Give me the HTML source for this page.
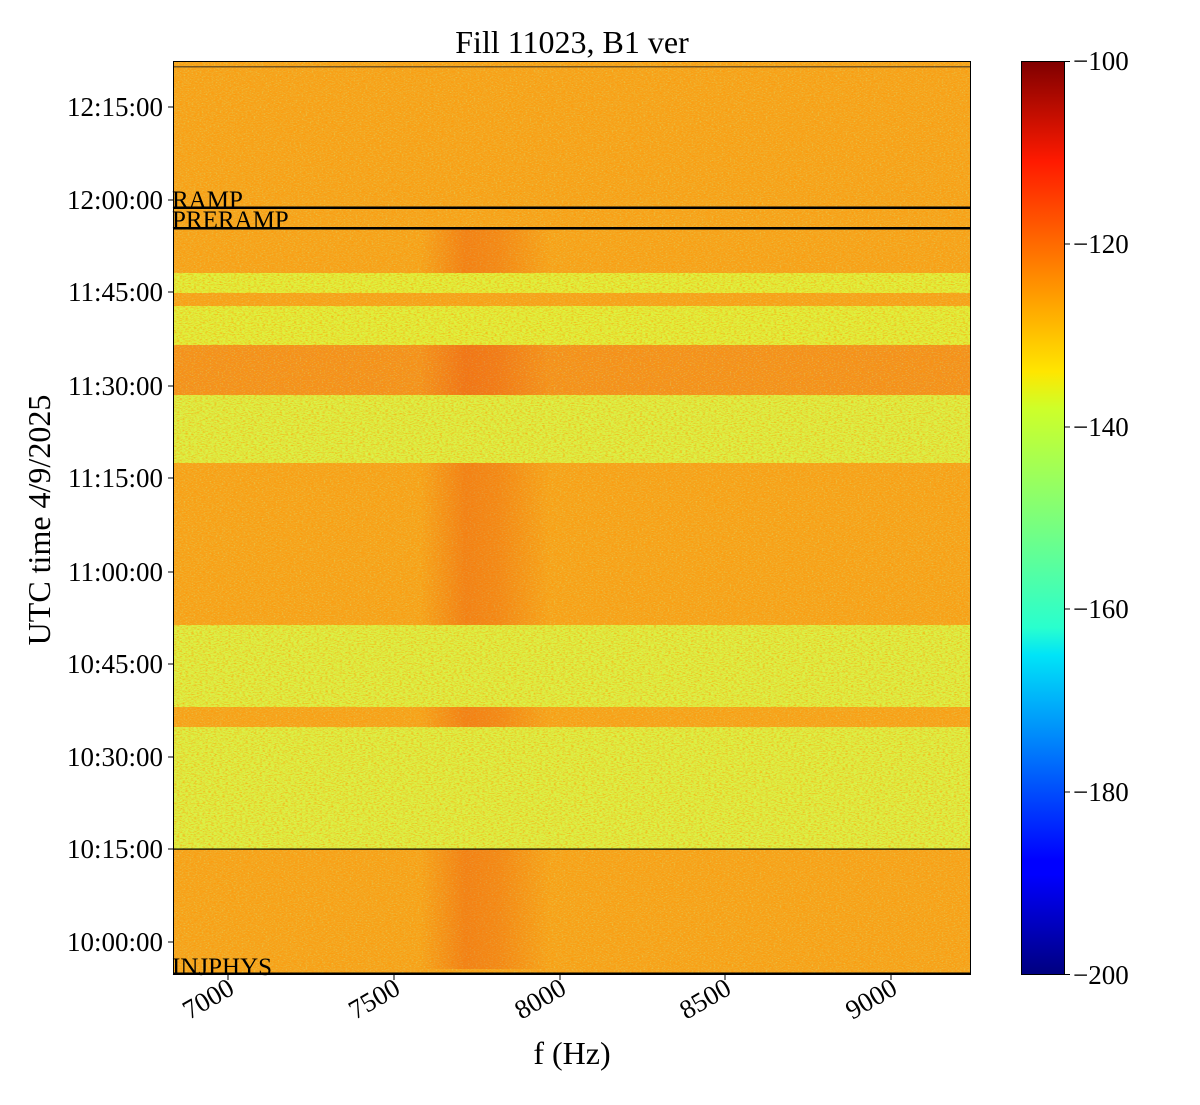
<!DOCTYPE html>
<html><head><meta charset="utf-8"><style>
html,body{margin:0;padding:0;background:#fff;}
svg text{font-family:"Liberation Serif",serif;fill:#000;}
</style></head><body>
<svg width="1200" height="1100" viewBox="0 0 1200 1100" xmlns="http://www.w3.org/2000/svg">
<defs>
<filter id="nz" x="0" y="0" width="100%" height="100%">
<feTurbulence type="fractalNoise" baseFrequency="0.35 0.9" numOctaves="2" seed="4"/>
<feColorMatrix type="matrix" values="0 0 0 0 1  0 0 0 0 0.3  0 0 0 0 0  2.6 0 0 0 -1.1"/>
</filter>
<filter id="nz2" x="0" y="0" width="100%" height="100%">
<feTurbulence type="fractalNoise" baseFrequency="0.5 1.2" numOctaves="1" seed="9"/>
<feColorMatrix type="matrix" values="0 0 0 0 0.6  0 0 0 0 1  0 0 0 0 0.3  2.8 0 0 0 -1.4"/>
</filter>
<linearGradient id="jet" x1="0" y1="1" x2="0" y2="0">
<stop offset="0" stop-color="#00007f"/>
<stop offset="0.11" stop-color="#0000ff"/>
<stop offset="0.125" stop-color="#0000ff"/>
<stop offset="0.35" stop-color="#00e4f8"/>
<stop offset="0.38" stop-color="#29ffce"/>
<stop offset="0.5" stop-color="#7dff7a"/>
<stop offset="0.62" stop-color="#ceff29"/>
<stop offset="0.66" stop-color="#ffe600"/>
<stop offset="0.89" stop-color="#ff1a00"/>
<stop offset="1" stop-color="#7f0000"/>
</linearGradient>
<linearGradient id="streak" x1="0" y1="0" x2="1" y2="0">
<stop offset="0" stop-color="#e8300a" stop-opacity="0"/>
<stop offset="0.35" stop-color="#e8300a" stop-opacity="0.28"/>
<stop offset="0.6" stop-color="#e8300a" stop-opacity="0.22"/>
<stop offset="1" stop-color="#e8300a" stop-opacity="0"/>
</linearGradient>
</defs>
<g>
<rect x="173" y="61" width="798" height="914" fill="#f6a41e"/>
<rect x="173" y="273" width="798" height="20" fill="#e0f03a"/>
<rect x="173" y="306" width="798" height="39" fill="#e0f03a"/>
<rect x="173" y="345" width="798" height="50" fill="#f39020"/>
<rect x="173" y="395" width="798" height="68" fill="#dcf042"/>
<rect x="173" y="625" width="798" height="82" fill="#dcf042"/>
<rect x="173" y="727" width="798" height="122" fill="#dcf042"/>
<rect x="173" y="61" width="798" height="914" filter="url(#nz)" opacity="0.6"/>
<rect x="173" y="61" width="798" height="914" filter="url(#nz2)" opacity="0.4"/>
<rect x="420" y="228" width="130" height="45" fill="url(#streak)"/>
<rect x="420" y="345" width="130" height="50" fill="url(#streak)"/>
<rect x="420" y="463" width="130" height="162" fill="url(#streak)"/>
<rect x="420" y="707" width="130" height="20" fill="url(#streak)"/>
<rect x="420" y="849" width="130" height="120" fill="url(#streak)"/>
<rect x="173" y="206.5" width="798" height="2.5" fill="#000"/>
<rect x="173" y="227" width="798" height="2.5" fill="#000"/>
<rect x="173" y="848.5" width="798" height="1.2" fill="#000"/>
<rect x="173" y="972.5" width="798" height="2.5" fill="#000"/>
<rect x="173" y="66" width="798" height="1.5" fill="#222" opacity="0.6"/>
<rect x="173.5" y="61.5" width="797" height="913" fill="none" stroke="#000" stroke-width="1"/>
<text x="172" y="208" font-size="25">RAMP</text>
<text x="172" y="228" font-size="25">PRERAMP</text>
<text x="172" y="975" font-size="25">INJPHYS</text>
</g>
<g font-size="27" text-anchor="end">
<g stroke="#000" stroke-width="1">
<line x1="168" y1="107" x2="173" y2="107"/><line x1="168" y1="200" x2="173" y2="200"/>
<line x1="168" y1="292" x2="173" y2="292"/><line x1="168" y1="386" x2="173" y2="386"/>
<line x1="168" y1="478" x2="173" y2="478"/><line x1="168" y1="572" x2="173" y2="572"/>
<line x1="168" y1="664" x2="173" y2="664"/><line x1="168" y1="757" x2="173" y2="757"/>
<line x1="168" y1="849" x2="173" y2="849"/><line x1="168" y1="942" x2="173" y2="942"/>
</g>
<text x="163" y="116">12:15:00</text><text x="163" y="209">12:00:00</text>
<text x="163" y="301">11:45:00</text><text x="163" y="395">11:30:00</text>
<text x="163" y="487">11:15:00</text><text x="163" y="581">11:00:00</text>
<text x="163" y="673">10:45:00</text><text x="163" y="766">10:30:00</text>
<text x="163" y="858">10:15:00</text><text x="163" y="951">10:00:00</text>
</g>
<g stroke="#000" stroke-width="1">
<line x1="228" y1="975" x2="228" y2="980"/><line x1="394" y1="975" x2="394" y2="980"/>
<line x1="560" y1="975" x2="560" y2="980"/><line x1="725" y1="975" x2="725" y2="980"/>
<line x1="891" y1="975" x2="891" y2="980"/>
</g>
<g font-size="27" text-anchor="end">
<text transform="translate(236,993) rotate(-30)">7000</text>
<text transform="translate(402,993) rotate(-30)">7500</text>
<text transform="translate(568,993) rotate(-30)">8000</text>
<text transform="translate(733,993) rotate(-30)">8500</text>
<text transform="translate(899,993) rotate(-30)">9000</text>
</g>
<text x="572" y="1064" font-size="32" text-anchor="middle">f (Hz)</text>
<text transform="translate(50,520) rotate(-90)" font-size="32" text-anchor="middle">UTC time 4/9/2025</text>
<text x="572" y="53" font-size="32" text-anchor="middle">Fill 11023, B1 ver</text>
<rect x="1021" y="61" width="44" height="914" fill="url(#jet)"/>
<rect x="1021.5" y="61.5" width="43" height="913" fill="none" stroke="#000" stroke-width="1"/>
<g stroke="#000" stroke-width="1">
<line x1="1065" y1="61.5" x2="1070" y2="61.5"/><line x1="1065" y1="244" x2="1070" y2="244"/>
<line x1="1065" y1="427" x2="1070" y2="427"/><line x1="1065" y1="609" x2="1070" y2="609"/>
<line x1="1065" y1="792" x2="1070" y2="792"/><line x1="1065" y1="974.5" x2="1070" y2="974.5"/>
</g>
<g font-size="27">
<text x="1073" y="70">−100</text><text x="1073" y="253">−120</text>
<text x="1073" y="436">−140</text><text x="1073" y="618">−160</text>
<text x="1073" y="801">−180</text><text x="1073" y="984">−200</text>
</g>
</svg>
</body></html>
